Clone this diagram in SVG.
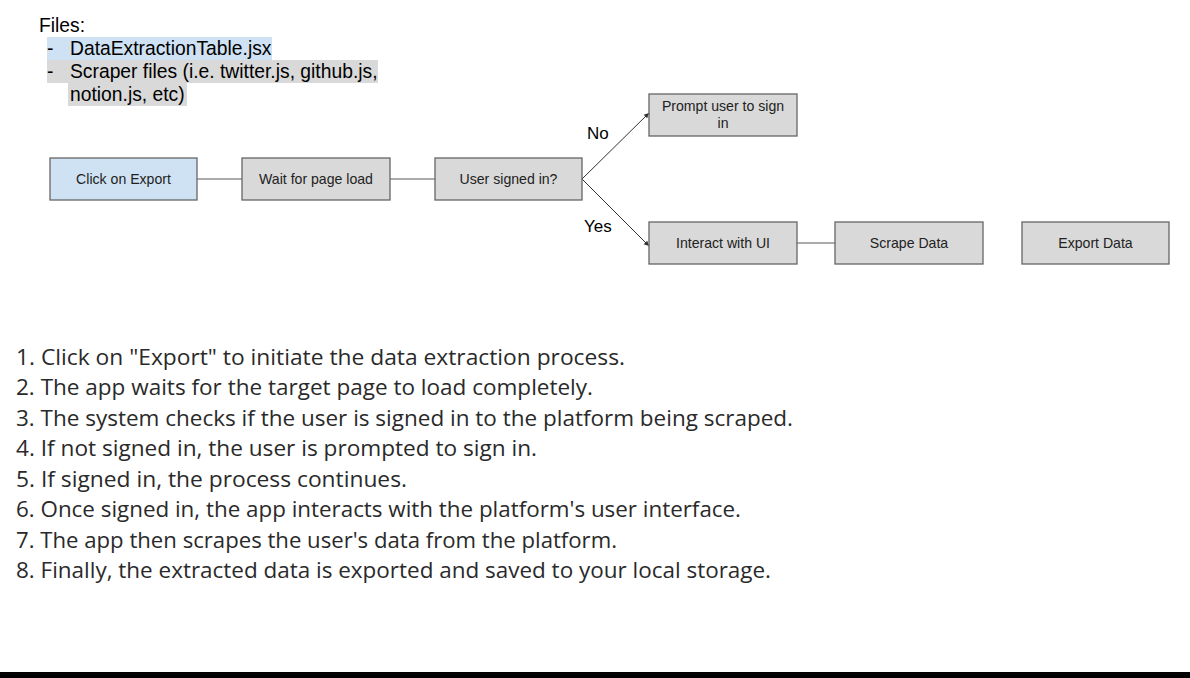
<svg xmlns="http://www.w3.org/2000/svg" width="1190" height="678" viewBox="0 0 1190 678">
<style>
.box{stroke:#666;stroke-width:1.3}
.g{fill:#d9d9d9}
.b{fill:#cfe2f3}
.bt{font-family:"Liberation Sans",Arial,sans-serif;font-size:14.1px;fill:#222;text-anchor:middle}
.ft{font-family:"Liberation Sans",Arial,sans-serif;font-size:19.3px;fill:#000}
.lbl{font-family:"Liberation Sans",Arial,sans-serif;font-size:17px;fill:#000}
.li{font-family:"Open Sans","Noto Sans",sans-serif;font-size:21.5px;fill:#2a2a2a}
.ln{stroke:#595959;stroke-width:1.2;fill:none}
.ar{stroke:#333;stroke-width:1;fill:none}
</style>
<defs>
<marker id="ah" markerWidth="6" markerHeight="6" refX="5" refY="3" orient="auto" markerUnits="userSpaceOnUse">
<path d="M0,0.5 L5,3 L0,5.5 z" fill="#333"/>
</marker>
</defs>
<rect width="1190" height="678" fill="#fff"/>
<g id="files">
<rect x="47" y="37" width="225" height="23" fill="#cfe2f3"/>
<rect x="47" y="60" width="331" height="23" fill="#d9d9d9"/>
<rect x="68" y="83" width="119" height="23" fill="#d9d9d9"/>
<text class="ft" x="39" y="32">Files:</text>
<text class="ft" x="47" y="55">-</text>
<text class="ft" x="70" y="55">DataExtractionTable.jsx</text>
<text class="ft" x="47" y="78">-</text>
<text class="ft" x="70" y="78">Scraper files (i.e. twitter.js, github.js,</text>
<text class="ft" x="70" y="101">notion.js, etc)</text>
</g>
<g id="connectors">
<line class="ln" x1="197" y1="179" x2="242" y2="179"/>
<line class="ln" x1="390" y1="179" x2="435" y2="179"/>
<line class="ln" x1="797" y1="243" x2="835" y2="243"/>
<line class="ar" x1="582" y1="179" x2="649" y2="113" marker-end="url(#ah)"/>
<line class="ar" x1="582" y1="179" x2="649" y2="246" marker-end="url(#ah)"/>
<text class="lbl" x="587" y="139">No</text>
<text class="lbl" x="584" y="232">Yes</text>
</g>
<g id="click-export">
<rect class="box b" x="50" y="158" width="147" height="42"/>
<text class="bt" x="123.5" y="184">Click on Export</text>
</g>
<g id="wait-page">
<rect class="box g" x="242" y="158" width="148" height="42"/>
<text class="bt" x="316" y="184">Wait for page load</text>
</g>
<g id="user-signed">
<rect class="box g" x="435" y="158" width="147" height="42"/>
<text class="bt" x="508.5" y="184">User signed in?</text>
</g>
<g id="prompt">
<rect class="box g" x="649" y="94" width="148" height="42"/>
<text class="bt" x="723" y="111">Prompt user to sign</text>
<text class="bt" x="723" y="128">in</text>
</g>
<g id="interact">
<rect class="box g" x="649" y="222" width="148" height="42"/>
<text class="bt" x="723" y="248">Interact with UI</text>
</g>
<g id="scrape">
<rect class="box g" x="835" y="222" width="148" height="42"/>
<text class="bt" x="909" y="248">Scrape Data</text>
</g>
<g id="export-data">
<rect class="box g" x="1022" y="222" width="147" height="42"/>
<text class="bt" x="1095.5" y="248">Export Data</text>
</g>
<g id="steps">
<text class="li" x="16" y="365" textLength="609" lengthAdjust="spacingAndGlyphs">1. Click on "Export" to initiate the data extraction process.</text>
<text class="li" x="16" y="395" textLength="577" lengthAdjust="spacingAndGlyphs">2. The app waits for the target page to load completely.</text>
<text class="li" x="16" y="426" textLength="777" lengthAdjust="spacingAndGlyphs">3. The system checks if the user is signed in to the platform being scraped.</text>
<text class="li" x="16" y="456" textLength="521" lengthAdjust="spacingAndGlyphs">4. If not signed in, the user is prompted to sign in.</text>
<text class="li" x="16" y="487" textLength="391" lengthAdjust="spacingAndGlyphs">5. If signed in, the process continues.</text>
<text class="li" x="16" y="517" textLength="725" lengthAdjust="spacingAndGlyphs">6. Once signed in, the app interacts with the platform's user interface.</text>
<text class="li" x="16" y="548" textLength="601" lengthAdjust="spacingAndGlyphs">7. The app then scrapes the user's data from the platform.</text>
<text class="li" x="16" y="578" textLength="755" lengthAdjust="spacingAndGlyphs">8. Finally, the extracted data is exported and saved to your local storage.</text>
</g>
<rect x="0" y="672" width="1190" height="6" fill="#000"/>
</svg>
